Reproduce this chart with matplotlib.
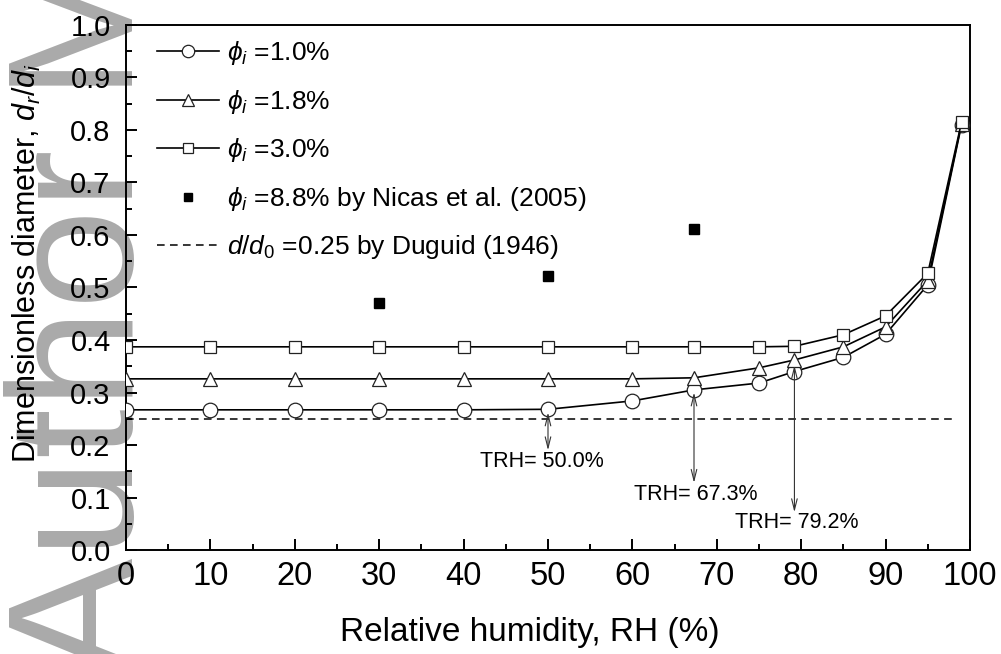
import numpy as np
import matplotlib
matplotlib.use("Agg")
import matplotlib.pyplot as plt
from matplotlib.ticker import MultipleLocator

plt.rcParams.update({
    "font.family": ["Liberation Sans", "DejaVu Sans"],
    "mathtext.fontset": "custom",
    "mathtext.rm": "Liberation Sans",
    "mathtext.it": "Liberation Sans:italic",
    "mathtext.bf": "Liberation Sans:bold",
})

# data
rh = [0, 10, 20, 30, 40, 50, 60, 67.3, 75, 79.2, 85, 90, 95, 99]
phi_10 = [0.267, 0.267, 0.267, 0.267, 0.267, 0.268, 0.284, 0.305, 0.318, 0.340, 0.367, 0.411, 0.505, 0.810]
phi_18 = [0.326, 0.326, 0.326, 0.326, 0.326, 0.326, 0.326, 0.328, 0.347, 0.362, 0.387, 0.425, 0.513, 0.812]
phi_30 = [0.387, 0.387, 0.387, 0.387, 0.387, 0.387, 0.387, 0.387, 0.387, 0.388, 0.410, 0.446, 0.527, 0.815]
nicas_rh = [30, 50, 67.3]
nicas_d = [0.470, 0.522, 0.611]
duguid_rh = [0, 98.5]
duguid_d = 0.25

trh = [50.0, 67.3, 79.2]
trh_labels = ["TRH= 50.0%", "TRH= 67.3%", "TRH= 79.2%"]
arrow_top = [0.262, 0.300, 0.352]
arrow_bot = [0.190, 0.128, 0.072]
label_xy = [(49.3, 0.168), (67.5, 0.105), (79.5, 0.053)]

fig = plt.figure(figsize=(10.01, 6.54), dpi=100)
ax = fig.add_axes([0.1259, 0.159, 0.8431, 0.8028])
ax.patch.set_alpha(0)

# watermark behind everything
fig.text(133 / 1001, 1 - 677 / 654, "Author Manuscript", rotation=90,
         rotation_mode="anchor", ha="left", va="baseline", fontsize=129,
         color="#aaaaaa", zorder=-5)

lw = 1.2
ax.plot(rh, phi_10, "-o", color="black", lw=lw, ms=10.5, mfc="white", mec="#222",
        mew=0.9, label=r"$\phi_i$ =1.0%", zorder=3)
ax.plot(rh, phi_18, "-^", color="black", lw=lw, ms=10.5, mfc="white", mec="#222",
        mew=0.9, label=r"$\phi_i$ =1.8%", zorder=3)
ax.plot(rh, phi_30, "-s", color="black", lw=lw, ms=8.5, mfc="white", mec="#222",
        mew=0.9, label=r"$\phi_i$ =3.0%", zorder=3)
ax.plot(nicas_rh, nicas_d, "s", color="black", ms=7,
        label=r"$\phi_i$ =8.8% by Nicas et al. (2005)")
ax.plot(duguid_rh, [duguid_d] * 2, "--", color="black", lw=1.1, dashes=(5, 3.5),
        label=r"$\mathit{d/d_0}$ =0.25 by Duguid (1946)")

for x, top, bot, lab, (tx, ty) in zip(trh, arrow_top, arrow_bot, trh_labels, label_xy):
    ax.annotate("", xy=(x, bot), xytext=(x, top),
                arrowprops=dict(arrowstyle="<->,head_length=0.8,head_width=0.2",
                                lw=0.8, color="#333333", shrinkA=0, shrinkB=0))
    ax.text(tx, ty, lab, ha="center", va="center", fontsize=15.5)

ax.set_xlim(0, 100)
ax.set_ylim(0, 1.0)
ax.xaxis.set_major_locator(MultipleLocator(10))
ax.xaxis.set_minor_locator(MultipleLocator(5))
ax.yaxis.set_major_locator(MultipleLocator(0.1))
ax.yaxis.set_minor_locator(MultipleLocator(0.05))
ax.yaxis.set_major_formatter(matplotlib.ticker.FormatStrFormatter("%.1f"))
ax.tick_params(which="both", direction="in", top=False, right=False, width=1.4)
ax.tick_params(which="major", length=8)
ax.tick_params(which="minor", length=4)
ax.tick_params(axis="x", labelsize=23.5, pad=8)
ax.tick_params(axis="y", labelsize=21, pad=11)
for s in ax.spines.values():
    s.set_linewidth(1.4)

ax.set_xlabel("Relative humidity, RH (%)", fontsize=24)
ax.xaxis.set_label_coords(0.479, -0.128)
ax.set_ylabel(r"Dimensionless diameter, $d_r/d_i$", fontsize=22)
ax.yaxis.set_label_coords(-0.098, 0.547)

ax.legend(loc="upper left", bbox_to_anchor=(0.037, 0.973), frameon=False,
          fontsize=19, handlelength=2.35, handletextpad=0.3, labelspacing=0.78,
          borderpad=0, borderaxespad=0, markerscale=0.85)

fig.savefig("out.png", dpi=100)
